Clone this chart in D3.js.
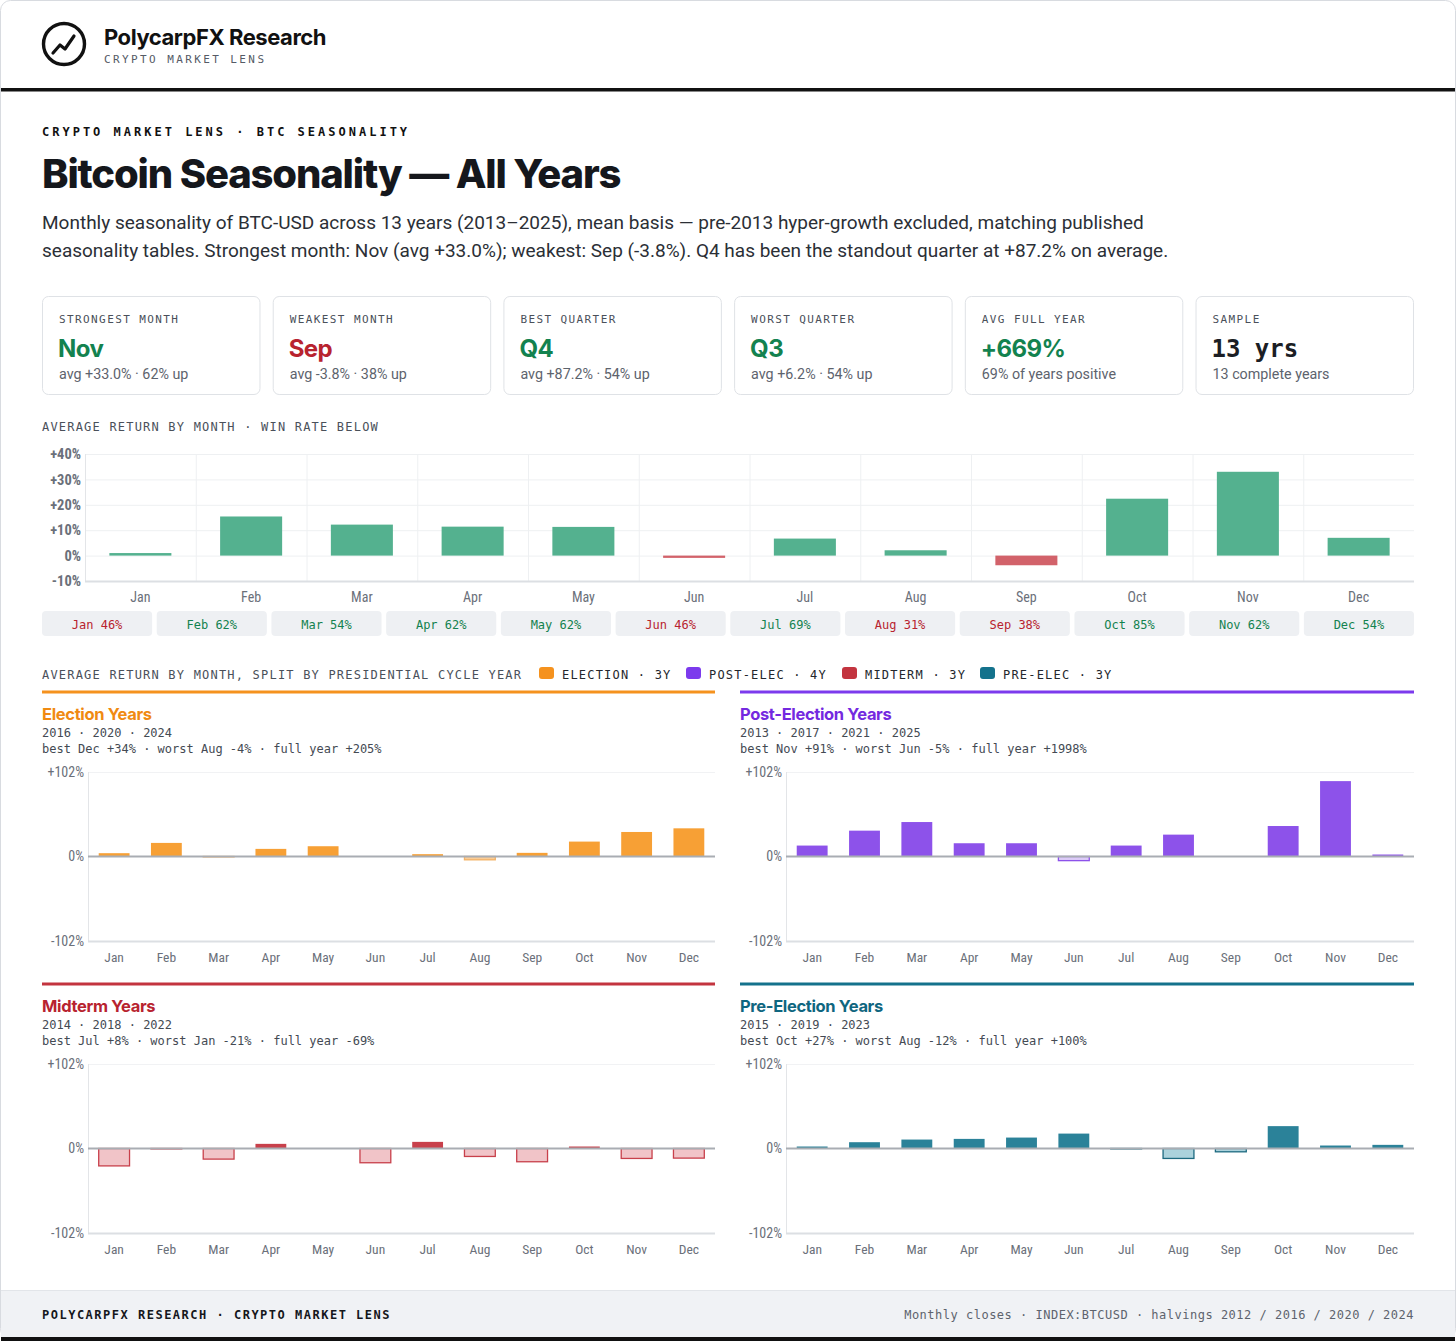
<!DOCTYPE html>
<html>
<head>
<meta charset="utf-8">
<script src="https://cdn.jsdelivr.net/npm/d3@7"></script>
<style>
  html, body { margin: 0; padding: 0; background: #fff; }
  svg { display: block; }
  .mono { font-family: "DejaVu Sans Mono", "Liberation Mono", monospace; }
  .sans { font-family: "Inter", "Noto Sans", sans-serif; }
  .body { font-family: "Roboto", "Noto Sans", sans-serif; }
  .cond { font-family: "Liberation Sans Narrow", "Roboto Condensed", "Roboto", sans-serif; }
</style>
</head>
<body>
<svg id="chart"></svg>
<script>
// ---------- data ----------
var months = ['Jan', 'Feb', 'Mar', 'Apr', 'May', 'Jun', 'Jul', 'Aug', 'Sep', 'Oct', 'Nov', 'Dec'];
var avgReturn = [1.0, 15.4, 12.2, 11.4, 11.3, -0.9, 6.7, 2.1, -3.8, 22.4, 33.0, 7.0];
var winRate = [46, 62, 54, 62, 62, 46, 69, 31, 38, 85, 62, 54];
var mainTicks = [-10, 0, 10, 20, 30, 40];

var electionAvg = [4.0, 16.4, -0.5, 9.2, 12.4, 0.5, 2.8, -4.0, 4.4, 18.0, 29.6, 34.0];
var postElecAvg = [13.2, 31.2, 41.6, 16.0, 16.0, -5.0, 13.2, 26.4, 0.0, 36.8, 91.0, 2.4];
var midtermAvg = [-21.0, -0.5, -12.8, 5.6, 0.0, -17.2, 8.0, -9.6, -16.0, 2.4, -12.0, -11.6];
var preElecAvg = [2.4, 7.6, 10.8, 11.6, 13.2, 18.0, -0.5, -12.0, -4.0, 27.0, 3.6, 4.4];
var cycleTicks = [-102, 0, 102];

var kpiLabels = ['STRONGEST MONTH', 'WEAKEST MONTH', 'BEST QUARTER', 'WORST QUARTER', 'AVG FULL YEAR', 'SAMPLE'];
var kpiValues = ['Nov', 'Sep', 'Q4', 'Q3', '+669%', '13 yrs'];
var kpiSubs = ['avg +33.0% · 62% up', 'avg -3.8% · 38% up', 'avg +87.2% · 54% up', 'avg +6.2% · 54% up', '69% of years positive', '13 complete years'];
var kpiTone = ['up', 'down', 'up', 'up', 'up', 'plain'];

var legendNames = ['ELECTION · 3Y', 'POST-ELEC · 4Y', 'MIDTERM · 3Y', 'PRE-ELEC · 3Y'];
var legendColors = ['#f5921e', '#7c3aed', '#c3343f', '#14728c'];

var panelTitles = ['Election Years', 'Post-Election Years', 'Midterm Years', 'Pre-Election Years'];
var panelYears = ['2016 · 2020 · 2024', '2013 · 2017 · 2021 · 2025', '2014 · 2018 · 2022', '2015 · 2019 · 2023'];
var panelNotes = [
  'best Dec +34% · worst Aug -4% · full year +205%',
  'best Nov +91% · worst Jun -5% · full year +1998%',
  'best Jul +8% · worst Jan -21% · full year -69%',
  'best Oct +27% · worst Aug -12% · full year +100%'
];

var W = 1456, H = 1341;
var GREEN = '#13824f', RED = '#b8232f';

var svg = d3.select('#chart').attr('width', W).attr('height', H);

// ---------- page frame ----------
svg.append('rect')
  .attr('x', 0.5).attr('y', 0.5).attr('width', W - 1).attr('height', H - 3)
  .attr('rx', 10).attr('fill', '#fff').attr('stroke', '#d8dbe0');

// footer band
svg.append('rect').attr('x', 1).attr('y', 1290).attr('width', W - 2).attr('height', 48).attr('fill', '#f0f2f5');
svg.append('line').attr('x1', 1).attr('x2', W - 1).attr('y1', 1290.5).attr('y2', 1290.5).attr('stroke', '#e2e5e9');
svg.append('rect').attr('x', 1).attr('y', 1337).attr('width', W - 2).attr('height', 4).attr('fill', '#111');

// ---------- header ----------
var logo = svg.append('g');
logo.append('circle').attr('cx', 64).attr('cy', 44).attr('r', 20.5)
  .attr('fill', 'none').attr('stroke', '#111').attr('stroke-width', 3.4);
logo.append('path')
  .attr('d', d3.line()([[53, 53], [60, 45], [65, 49], [74, 36]]))
  .attr('fill', 'none').attr('stroke', '#111').attr('stroke-width', 3.2)
  .attr('stroke-linejoin', 'round').attr('stroke-linecap', 'round');

svg.append('text').attr('class', 'sans').attr('x', 104).attr('y', 45)
  .attr('font-size', 22).attr('font-weight', 700).attr('letter-spacing', -0.45)
  .attr('fill', '#111').text('PolycarpFX Research');
svg.append('text').attr('class', 'mono').attr('x', 104).attr('y', 63)
  .attr('font-size', 11).attr('letter-spacing', 2.4).attr('fill', '#555b66')
  .text('CRYPTO MARKET LENS');

svg.append('rect').attr('x', 1).attr('y', 88).attr('width', W - 2).attr('height', 3.5).attr('fill', '#111');

// ---------- title block ----------
svg.append('text').attr('class', 'mono').attr('x', 42).attr('y', 136)
  .attr('font-size', 12).attr('font-weight', 700).attr('letter-spacing', 3)
  .attr('fill', '#111').text('CRYPTO MARKET LENS · BTC SEASONALITY');

svg.append('text').attr('class', 'sans').attr('x', 42).attr('y', 188)
  .attr('font-size', 40).attr('font-weight', 800).attr('letter-spacing', -1.15)
  .attr('fill', '#15171c').text('Bitcoin Seasonality — All Years');

var subLines = [
  'Monthly seasonality of BTC-USD across 13 years (2013–2025), mean basis — pre-2013 hyper-growth excluded, matching published',
  'seasonality tables. Strongest month: Nov (avg +33.0%); weakest: Sep (-3.8%). Q4 has been the standout quarter at +87.2% on average.'
];
svg.append('g').selectAll('text').data(subLines).join('text')
  .attr('class', 'body').attr('x', 42).attr('y', function(d, i) { return 229 + i * 28; })
  .attr('font-size', 19).attr('fill', '#2b2f36').text(function(d) { return d; });

// ---------- KPI cards ----------
var cardX = d3.scaleBand().domain(d3.range(6)).range([42, 1414]).paddingInner(0.053);
var cards = svg.append('g').selectAll('g').data(kpiLabels).join('g')
  .attr('transform', function(d, i) { return 'translate(' + cardX(i) + ',296)'; });
cards.append('rect').attr('x', 0.5).attr('y', 0.5)
  .attr('width', cardX.bandwidth() - 1).attr('height', 98)
  .attr('rx', 6).attr('fill', '#fff').attr('stroke', '#dfe2e6');
cards.append('text').attr('class', 'mono').attr('x', 17).attr('y', 27)
  .attr('font-size', 11).attr('letter-spacing', 1.4).attr('fill', '#4a505a')
  .text(function(d) { return d; });
cards.append('text')
  .attr('class', function(d, i) { return kpiTone[i] === 'plain' ? 'mono' : 'sans'; })
  .attr('x', 16).attr('y', 61)
  .attr('font-size', 24)
  .attr('font-weight', 700)
  .attr('letter-spacing', function(d, i) { return kpiTone[i] === 'plain' ? 0 : -0.6; })
  .attr('fill', function(d, i) { return kpiTone[i] === 'up' ? GREEN : kpiTone[i] === 'down' ? RED : '#1b1e24'; })
  .text(function(d, i) { return kpiValues[i]; });
cards.append('text').attr('class', 'body').attr('x', 17).attr('y', 83)
  .attr('font-size', 14.3).attr('fill', '#5d636d')
  .text(function(d, i) { return kpiSubs[i]; });

// ---------- main chart ----------
svg.append('text').attr('class', 'mono').attr('x', 42).attr('y', 431)
  .attr('font-size', 12).attr('letter-spacing', 1.2).attr('fill', '#4a505a')
  .text('AVERAGE RETURN BY MONTH · WIN RATE BELOW');

var mx = d3.scaleBand().domain(months).range([85, 1414]).paddingInner(0.44).paddingOuter(0.22);
var my = d3.scaleLinear().domain([-10, 40]).range([581, 454]);
var main = svg.append('g');

// horizontal grid
main.append('g').selectAll('line').data(mainTicks).join('line')
  .attr('x1', 85).attr('x2', 1414)
  .attr('y1', function(d) { return my(d) + 0.5; }).attr('y2', function(d) { return my(d) + 0.5; })
  .attr('stroke', '#eef0f2');
// vertical separators between months
main.append('g').selectAll('line').data(months.slice(1)).join('line')
  .attr('x1', function(d) { return mx(d) - mx.step() * 0.22 + 0.5; })
  .attr('x2', function(d) { return mx(d) - mx.step() * 0.22 + 0.5; })
  .attr('y1', 454).attr('y2', 581)
  .attr('stroke', '#eef0f2');
main.append('line').attr('x1', 85.5).attr('x2', 85.5).attr('y1', 454).attr('y2', 581).attr('stroke', '#e3e5e8');

main.append('g').selectAll('rect').data(avgReturn).join('rect')
  .attr('x', function(d, i) { return mx(months[i]); })
  .attr('width', mx.bandwidth())
  .attr('y', function(d) { return my(Math.max(0, d)); })
  .attr('height', function(d) { return Math.max(1.5, Math.abs(my(d) - my(0))); })
  .attr('fill', function(d) { return d >= 0 ? '#54b18f' : '#d2626a'; });

main.append('line').attr('x1', 85).attr('x2', 1414).attr('y1', 581.5).attr('y2', 581.5)
  .attr('stroke', '#dcdfe3').attr('stroke-width', 2);

var yAx = main.append('g').attr('transform', 'translate(85,0)')
  .call(d3.axisLeft(my).tickValues(mainTicks).tickSize(0).tickPadding(4)
    .tickFormat(function(d) { return (d > 0 ? '+' : '') + d + '%'; }));
yAx.select('.domain').remove();
yAx.selectAll('text').attr('class', 'cond').attr('font-size', 14.5).attr('font-weight', 700).attr('fill', '#6b707a');

var xAx = main.append('g').attr('transform', 'translate(0,581)')
  .call(d3.axisBottom(mx).tickSize(0).tickPadding(11));
xAx.select('.domain').remove();
xAx.selectAll('text').attr('class', 'cond').attr('font-size', 14).attr('fill', '#6b707a');

// win rate pills
var px = d3.scaleBand().domain(months).range([42, 1414]).paddingInner(0.04);
var pills = svg.append('g').selectAll('g').data(winRate).join('g')
  .attr('transform', function(d, i) { return 'translate(' + px(months[i]) + ',611)'; });
pills.append('rect').attr('width', px.bandwidth()).attr('height', 25).attr('rx', 4).attr('fill', '#eef0f3');
pills.append('text').attr('class', 'mono').attr('x', px.bandwidth() / 2).attr('y', 17.5)
  .attr('text-anchor', 'middle').attr('font-size', 12)
  .attr('fill', function(d) { return d >= 50 ? GREEN : RED; })
  .text(function(d, i) { return months[i] + ' ' + d + '%'; });

// ---------- cycle section header + legend ----------
svg.append('text').attr('class', 'mono').attr('x', 42).attr('y', 679)
  .attr('font-size', 12).attr('letter-spacing', 1.2).attr('fill', '#4a505a')
  .text('AVERAGE RETURN BY MONTH, SPLIT BY PRESIDENTIAL CYCLE YEAR');

var legendX = [539, 686, 842, 980];
var leg = svg.append('g').selectAll('g').data(legendNames).join('g')
  .attr('transform', function(d, i) { return 'translate(' + legendX[i] + ',667)'; });
leg.append('rect').attr('width', 15).attr('height', 12).attr('rx', 3)
  .attr('fill', function(d, i) { return legendColors[i]; });
leg.append('text').attr('class', 'mono').attr('x', 23).attr('y', 12)
  .attr('font-size', 12).attr('letter-spacing', 1.2).attr('fill', '#23262c')
  .text(function(d) { return d; });

// ---------- cycle panels ----------
var panels = [
  { values: electionAvg, x0: 42, x1: 715, top: 692, line: '#f5921e', title: '#f08a12', pos: '#f7a035', negFill: '#f9cd98', negStroke: '#f3b165' },
  { values: postElecAvg, x0: 740, x1: 1414, top: 692, line: '#7c3aed', title: '#7429e0', pos: '#8d52ea', negFill: '#dccbf8', negStroke: '#8d52ea' },
  { values: midtermAvg, x0: 42, x1: 715, top: 984, line: '#c3343f', title: '#b8232f', pos: '#c8404b', negFill: '#f1c4c8', negStroke: '#c8404b' },
  { values: preElecAvg, x0: 740, x1: 1414, top: 984, line: '#14728c', title: '#0f6680', pos: '#2b8299', negFill: '#abd2dc', negStroke: '#1d6a80' }
];

panels.forEach(function(p, k) {
  var g = svg.append('g');
  var left = p.x0 + 46;
  var yTop = p.top + 80, yBot = p.top + 249;

  g.append('rect').attr('x', p.x0).attr('y', p.top - 1.5).attr('width', p.x1 - p.x0).attr('height', 3).attr('fill', p.line);

  g.append('text').attr('class', 'sans').attr('x', p.x0).attr('y', p.top + 28)
    .attr('font-size', 16.5).attr('font-weight', 700).attr('letter-spacing', -0.35)
    .attr('fill', p.title).text(panelTitles[k]);
  g.append('text').attr('class', 'mono').attr('x', p.x0).attr('y', p.top + 45)
    .attr('font-size', 12).attr('fill', '#444a53').text(panelYears[k]);
  g.append('text').attr('class', 'mono').attr('x', p.x0).attr('y', p.top + 61)
    .attr('font-size', 12).attr('fill', '#444a53').text(panelNotes[k]);

  var x = d3.scaleBand().domain(months).range([left, p.x1]).paddingInner(0.41).paddingOuter(0.205);
  var y = d3.scaleLinear().domain([-102, 102]).range([yBot, yTop]);

  g.append('line').attr('x1', left).attr('x2', p.x1).attr('y1', yTop + 0.5).attr('y2', yTop + 0.5).attr('stroke', '#f1f2f4');
  g.append('line').attr('x1', left + 0.5).attr('x2', left + 0.5).attr('y1', yTop).attr('y2', yBot).attr('stroke', '#e3e5e8');

  g.append('g').selectAll('rect').data(p.values).join('rect')
    .attr('x', function(d, i) { return x(months[i]); })
    .attr('width', x.bandwidth())
    .attr('y', function(d) { return y(Math.max(0, d)); })
    .attr('height', function(d) { return Math.abs(y(d) - y(0)); })
    .attr('fill', function(d) { return d >= 0 ? p.pos : p.negFill; })
    .attr('stroke', function(d) { return d >= 0 ? 'none' : p.negStroke; })
    .attr('stroke-width', 1.3);

  g.append('line').attr('x1', left).attr('x2', p.x1).attr('y1', y(0)).attr('y2', y(0))
    .attr('stroke', '#a9adb3').attr('stroke-width', 2);
  g.append('line').attr('x1', left).attr('x2', p.x1).attr('y1', yBot + 0.5).attr('y2', yBot + 0.5)
    .attr('stroke', '#dcdfe3').attr('stroke-width', 2);

  var ya = g.append('g').attr('transform', 'translate(' + left + ',0)')
    .call(d3.axisLeft(y).tickValues(cycleTicks).tickSize(0).tickPadding(4)
      .tickFormat(function(d) { return (d > 0 ? '+' : '') + d + '%'; }));
  ya.select('.domain').remove();
  ya.selectAll('text').attr('class', 'cond').attr('font-size', 14).attr('fill', '#6b707a');

  var xa = g.append('g').attr('transform', 'translate(0,' + yBot + ')')
    .call(d3.axisBottom(x).tickSize(0).tickPadding(11));
  xa.select('.domain').remove();
  xa.selectAll('text').attr('class', 'cond').attr('font-size', 13.5).attr('fill', '#6b707a');
});

// ---------- footer ----------
svg.append('text').attr('class', 'mono').attr('x', 42).attr('y', 1319)
  .attr('font-size', 12).attr('font-weight', 700).attr('letter-spacing', 1.5).attr('fill', '#15171c')
  .text('POLYCARPFX RESEARCH · CRYPTO MARKET LENS');
svg.append('text').attr('class', 'mono').attr('x', 1414).attr('y', 1319).attr('text-anchor', 'end')
  .attr('font-size', 12).attr('letter-spacing', 0.5).attr('fill', '#5d636d')
  .text('Monthly closes · INDEX:BTCUSD · halvings 2012 / 2016 / 2020 / 2024');
</script>
</body>
</html>
